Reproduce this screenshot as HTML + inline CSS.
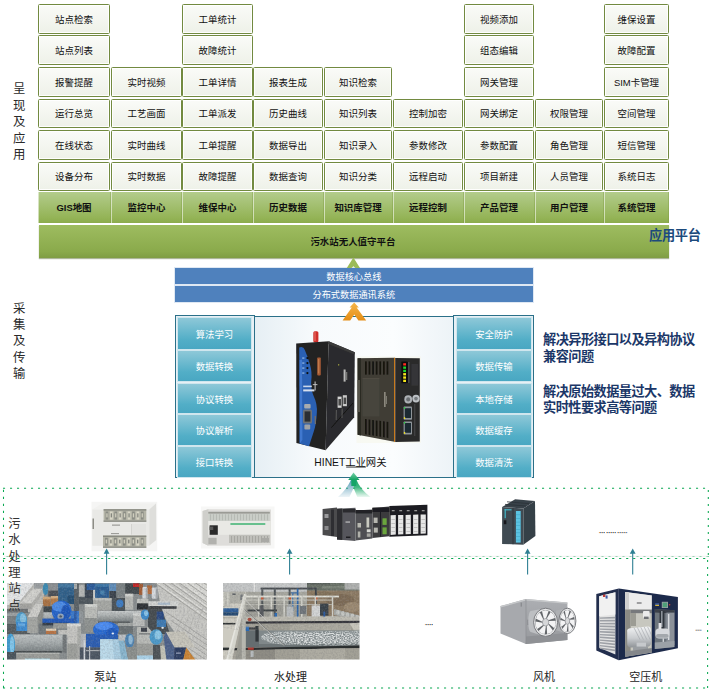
<!DOCTYPE html>
<html lang="zh-CN">
<head>
<meta charset="utf-8">
<title>污水站无人值守平台 系统架构</title>
<style>
html,body{margin:0;padding:0;background:#fff}
body{width:711px;height:694px;position:relative;overflow:hidden;font-family:"Liberation Sans",sans-serif;font-size:9px}
div{position:absolute;box-sizing:border-box}
span{color:transparent;white-space:nowrap}
svg{position:absolute;left:0;top:0}
.c,.g,.bar,.bb,.tc{display:flex;align-items:center;justify-content:center}
.c{border:1px solid #728a40;border-radius:1.5px;background:linear-gradient(#fafbf8,#eef1e8);box-shadow:inset 0 0 0 1px rgba(255,255,255,.9)}
.g{background:linear-gradient(#b3cc8c,#93b355 85%,#8cab4e);border-left:1px solid rgba(255,255,255,.55);border-right:1px solid rgba(120,150,60,.35);font-weight:bold}
.bar{background:linear-gradient(#9ebc60,#8aaa4b 80%,#7f9d43);box-shadow:0 1px 1px rgba(90,110,50,.5);font-weight:bold}
.bb{background:#4f81bd;box-shadow:0 0 0 1px #dfe8f3}
.ct{border:1px solid #2b7089;background:#e7f0f5}
.ct.mid{background:linear-gradient(90deg,#e6eff4,#f7fafc 30%,#fbfdfe 70%,#edf3f7)}
.tc{border:1px solid #cfe6ee;background:linear-gradient(#8ec8d8,#52aec7 70%,#49a7c2)}
.lbl{width:40px}
.lbl.v{width:14px;line-height:16px;font-size:12px}
.lbl.v span{white-space:normal;word-break:break-all}
.lbl.note{width:160px;font-size:13px;font-weight:bold}
.lbl.note span{white-space:normal}
.lbl.app{font-size:13px;font-weight:bold}
.lbl.cap{font-size:11px;text-align:center}
</style>
</head>
<body>
<svg width="711" height="694" viewBox="0 0 711 694" style="z-index:0"><defs>
<filter id="b3" x="-5%" y="-5%" width="110%" height="110%"><feGaussianBlur stdDeviation="0.35"/></filter>
<filter id="b5" x="-5%" y="-5%" width="110%" height="110%"><feGaussianBlur stdDeviation="0.55"/></filter>
<filter id="b8" x="-5%" y="-5%" width="110%" height="110%"><feGaussianBlur stdDeviation="0.8"/></filter>
<linearGradient id="gOr" x1="0" y1="0" x2="0" y2="1"><stop offset="0" stop-color="#f6b64a"/><stop offset="1" stop-color="#e58e16"/></linearGradient>
<linearGradient id="gTl" x1="0" y1="0" x2="0" y2="1"><stop offset="0" stop-color="#3f8fae" stop-opacity=".95"/><stop offset="1" stop-color="#6aa6c0" stop-opacity=".12"/></linearGradient>
<linearGradient id="gGr" x1="0" y1="0" x2="0" y2="1"><stop offset="0" stop-color="#12a467"/><stop offset=".45" stop-color="#2fb176" stop-opacity=".9"/><stop offset="1" stop-color="#55c28e" stop-opacity=".12"/></linearGradient>
<linearGradient id="gHead" x1="0" y1="0" x2="0" y2="1"><stop offset="0" stop-color="#74d0a8"/><stop offset="1" stop-color="#12a161"/></linearGradient>
<linearGradient id="gPipe" x1="0" y1="0" x2="0" y2="1"><stop offset="0" stop-color="#bdc2c2"/><stop offset=".45" stop-color="#a4aaab"/><stop offset="1" stop-color="#747b7d"/></linearGradient>
<linearGradient id="gPipe2" x1="0" y1="0" x2="0" y2="1"><stop offset="0" stop-color="#c6caca"/><stop offset=".5" stop-color="#a5aaaa"/><stop offset="1" stop-color="#787f80"/></linearGradient>
<linearGradient id="gFan" x1="0" y1="0" x2="0" y2="1"><stop offset="0" stop-color="#acaeb2"/><stop offset="1" stop-color="#97999d"/></linearGradient>
<linearGradient id="gMot" x1="0" y1="0" x2="0" y2="1"><stop offset="0" stop-color="#f2f3f4"/><stop offset=".55" stop-color="#c9cccf"/><stop offset="1" stop-color="#8e9296"/></linearGradient>
<filter id="foam" x="0" y="0" width="100%" height="100%"><feTurbulence type="fractalNoise" baseFrequency="0.55 0.9" numOctaves="2" seed="4" result="n"/><feColorMatrix in="n" type="matrix" values="0 0 0 0 0  0 0 0 0 0  0 0 0 0 0  0 0 0 2.6 -0.8" result="m"/><feComposite in="SourceGraphic" in2="m" operator="in"/></filter>
<filter id="grain" x="0" y="0" width="100%" height="100%"><feTurbulence type="fractalNoise" baseFrequency="0.8" numOctaves="2" seed="9" result="n"/><feColorMatrix in="n" type="matrix" values="0 0 0 0 0  0 0 0 0 0  0 0 0 0 0  0 0 0 1.4 -0.55" result="m"/><feComposite in="SourceGraphic" in2="m" operator="in"/></filter>
<filter id="pgrain" x="0" y="0" width="100%" height="100%"><feTurbulence type="fractalNoise" baseFrequency="0.55" numOctaves="2" seed="3" result="n"/><feColorMatrix in="n" type="matrix" values="0 0 0 0 0.1  0 0 0 0 0.1  0 0 0 0 0.12  2.2 0 0 0 -0.85"/></filter>
<filter id="pgrainw" x="0" y="0" width="100%" height="100%"><feTurbulence type="fractalNoise" baseFrequency="0.55" numOctaves="2" seed="11" result="n"/><feColorMatrix in="n" type="matrix" values="0 0 0 0 1  0 0 0 0 1  0 0 0 0 1  0 2.2 0 0 -0.9"/></filter>
<clipPath id="cpPump"><rect x="7" y="583" width="200" height="76.5"/></clipPath>
<clipPath id="cpWater"><rect x="223" y="583" width="136.5" height="76.4"/></clipPath>
</defs><line x1="3" y1="488.3" x2="708.8" y2="488.3" stroke="#0aa852" stroke-width="1.05" stroke-dasharray="2.1 4.9"/><line x1="6.45" y1="556.4" x2="708.8" y2="556.4" stroke="#0aa852" stroke-width="1.05" stroke-dasharray="2.1 4.9"/><line x1="3.15" y1="558.5" x2="708" y2="558.5" stroke="#0aa852" stroke-width="1.05" stroke-dasharray="2.1 4.9"/><line x1="3" y1="688" x2="708" y2="688" stroke="#0aa852" stroke-width="1.05" stroke-dasharray="2.1 4.9"/><line x1="3.5" y1="489.85" x2="3.5" y2="688.3" stroke="#0aa852" stroke-width="1.05" stroke-dasharray="2.1 4.9"/><line x1="708.3" y1="490" x2="708.3" y2="556.4" stroke="#0aa852" stroke-width="1.05" stroke-dasharray="2.1 4.9"/><line x1="707.6" y1="560" x2="707.6" y2="688" stroke="#0aa852" stroke-width="1.05" stroke-dasharray="2.1 4.9"/><line x1="4" y1="556.3" x2="708" y2="556.3" stroke="#ececec" stroke-width="0.8"/><g filter="url(#b5)"><rect x="91.5" y="501.8" width="65.7" height="49.5" fill="#f5f5f4"/><polygon points="92.3,509.5 103.0,503.0 156.0,503.5 149.2,509.5" fill="#f1f1ef"/><polygon points="149.2,509.5 156.0,503.5 156.3,540.0 149.2,545.8" fill="#dededb"/><rect x="92.3" y="509.5" width="56.9" height="36.3" fill="#e9e9e6"/><rect x="92.6" y="518.5" width="1.2" height="10.5" fill="#77776f"/><rect x="103.6" y="509.3" width="42.7" height="12.5" fill="#b3b3a6"/><rect x="103.6" y="509.3" width="42.7" height="1.2" fill="#7f8078"/><rect x="105.6" y="511.5" width="2.7" height="8.1" fill="#8a8c84"/><rect x="106.3" y="513.3" width="1.3" height="4.1" fill="#cfcdbd"/><rect x="110.0" y="511.5" width="2.7" height="8.1" fill="#d8d6c6"/><rect x="110.7" y="513.3" width="1.3" height="4.1" fill="#84867e"/><rect x="114.4" y="511.5" width="2.7" height="8.1" fill="#8a8c84"/><rect x="115.1" y="513.3" width="1.3" height="4.1" fill="#cfcdbd"/><rect x="118.8" y="511.5" width="2.7" height="8.1" fill="#d8d6c6"/><rect x="119.5" y="513.3" width="1.3" height="4.1" fill="#84867e"/><rect x="123.2" y="511.5" width="2.7" height="8.1" fill="#8a8c84"/><rect x="123.9" y="513.3" width="1.3" height="4.1" fill="#cfcdbd"/><rect x="127.7" y="511.5" width="2.7" height="8.1" fill="#d8d6c6"/><rect x="128.4" y="513.3" width="1.3" height="4.1" fill="#84867e"/><rect x="132.1" y="511.5" width="2.7" height="8.1" fill="#8a8c84"/><rect x="132.8" y="513.3" width="1.3" height="4.1" fill="#cfcdbd"/><rect x="136.5" y="511.5" width="2.7" height="8.1" fill="#d8d6c6"/><rect x="137.2" y="513.3" width="1.3" height="4.1" fill="#84867e"/><rect x="140.9" y="511.5" width="2.7" height="8.1" fill="#8a8c84"/><rect x="141.6" y="513.3" width="1.3" height="4.1" fill="#cfcdbd"/><rect x="103.6" y="520.5" width="42.7" height="1.3" fill="#8c8d85"/><rect x="103.0" y="535.6" width="43.3" height="12.2" fill="#b3b3a6"/><rect x="103.0" y="535.6" width="43.3" height="1.2" fill="#7f8078"/><rect x="105.0" y="537.8" width="2.8" height="7.8" fill="#8a8c84"/><rect x="105.7" y="539.6" width="1.4" height="3.8" fill="#cfcdbd"/><rect x="109.5" y="537.8" width="2.8" height="7.8" fill="#d8d6c6"/><rect x="110.2" y="539.6" width="1.4" height="3.8" fill="#84867e"/><rect x="114.0" y="537.8" width="2.8" height="7.8" fill="#8a8c84"/><rect x="114.7" y="539.6" width="1.4" height="3.8" fill="#cfcdbd"/><rect x="118.4" y="537.8" width="2.8" height="7.8" fill="#d8d6c6"/><rect x="119.1" y="539.6" width="1.4" height="3.8" fill="#84867e"/><rect x="122.9" y="537.8" width="2.8" height="7.8" fill="#8a8c84"/><rect x="123.6" y="539.6" width="1.4" height="3.8" fill="#cfcdbd"/><rect x="127.4" y="537.8" width="2.8" height="7.8" fill="#d8d6c6"/><rect x="128.1" y="539.6" width="1.4" height="3.8" fill="#84867e"/><rect x="131.9" y="537.8" width="2.8" height="7.8" fill="#8a8c84"/><rect x="132.6" y="539.6" width="1.4" height="3.8" fill="#cfcdbd"/><rect x="136.3" y="537.8" width="2.8" height="7.8" fill="#d8d6c6"/><rect x="137.0" y="539.6" width="1.4" height="3.8" fill="#84867e"/><rect x="140.8" y="537.8" width="2.8" height="7.8" fill="#8a8c84"/><rect x="141.5" y="539.6" width="1.4" height="3.8" fill="#cfcdbd"/><rect x="103.0" y="546.5" width="43.3" height="1.3" fill="#8c8d85"/><rect x="131.0" y="524.0" width="15.0" height="10.5" fill="#e3e3e0"/><rect x="131.0" y="524.0" width="0.6" height="10.5" fill="#c8c8c4"/><rect x="112.0" y="524.6" width="8.0" height="1.0" fill="#8c8c88"/><rect x="111.0" y="533.2" width="8.0" height="0.9" fill="#8c8c88"/></g><g filter="url(#b5)"><rect x="201.0" y="506.5" width="73.5" height="42.0" fill="#f7f7f6"/><polygon points="202.6,511.0 208.3,509.3 271.0,509.6 271.0,545.3 208.3,545.8 202.6,543.0" fill="#deddda"/><polygon points="202.6,511.0 208.3,509.3 208.3,545.8 202.6,543.0" fill="#cfcfcb"/><rect x="208.3" y="511.8" width="61.5" height="9.1" fill="#c9cdc7"/><rect x="208.3" y="511.8" width="61.5" height="1.8" fill="#9a9b95"/><rect x="210.0" y="514.3" width="1.0" height="6.0" fill="#b6bab4"/><rect x="213.0" y="514.3" width="1.0" height="6.0" fill="#b6bab4"/><rect x="216.0" y="514.3" width="1.0" height="6.0" fill="#b6bab4"/><rect x="219.0" y="514.3" width="1.0" height="6.0" fill="#b6bab4"/><rect x="222.0" y="514.3" width="1.0" height="6.0" fill="#b6bab4"/><rect x="225.0" y="514.3" width="1.0" height="6.0" fill="#b6bab4"/><rect x="228.0" y="514.3" width="1.0" height="6.0" fill="#b6bab4"/><rect x="231.0" y="514.3" width="1.0" height="6.0" fill="#b6bab4"/><rect x="234.0" y="514.3" width="1.0" height="6.0" fill="#b6bab4"/><rect x="237.0" y="514.3" width="1.0" height="6.0" fill="#b6bab4"/><rect x="240.0" y="514.3" width="1.0" height="6.0" fill="#b6bab4"/><rect x="243.0" y="514.3" width="1.0" height="6.0" fill="#b6bab4"/><rect x="246.0" y="514.3" width="1.0" height="6.0" fill="#b6bab4"/><rect x="249.0" y="514.3" width="1.0" height="6.0" fill="#b6bab4"/><rect x="252.0" y="514.3" width="1.0" height="6.0" fill="#b6bab4"/><rect x="255.0" y="514.3" width="1.0" height="6.0" fill="#b6bab4"/><rect x="258.0" y="514.3" width="1.0" height="6.0" fill="#b6bab4"/><rect x="261.0" y="514.3" width="1.0" height="6.0" fill="#b6bab4"/><rect x="264.0" y="514.3" width="1.0" height="6.0" fill="#b6bab4"/><rect x="267.0" y="514.3" width="1.0" height="6.0" fill="#b6bab4"/><rect x="208.3" y="521.0" width="62.3" height="13.8" fill="#e9e9e5"/><rect x="230.4" y="523.3" width="34.9" height="1.4" fill="#2fae6a"/><rect x="209.6" y="525.3" width="8.2" height="9.5" fill="#2b2b2b"/><rect x="209.6" y="526.6" width="3.6" height="3.4" fill="#5a5a5a"/><rect x="229.0" y="534.8" width="40.8" height="8.2" fill="#bfbfba"/><rect x="231.0" y="536.0" width="1.0" height="6.4" fill="#a7a7a2"/><rect x="234.0" y="536.0" width="1.0" height="6.4" fill="#a7a7a2"/><rect x="237.0" y="536.0" width="1.0" height="6.4" fill="#a7a7a2"/><rect x="240.0" y="536.0" width="1.0" height="6.4" fill="#a7a7a2"/><rect x="243.0" y="536.0" width="1.0" height="6.4" fill="#a7a7a2"/><rect x="246.0" y="536.0" width="1.0" height="6.4" fill="#a7a7a2"/><rect x="249.0" y="536.0" width="1.0" height="6.4" fill="#a7a7a2"/><rect x="252.0" y="536.0" width="1.0" height="6.4" fill="#a7a7a2"/><rect x="255.0" y="536.0" width="1.0" height="6.4" fill="#a7a7a2"/><rect x="258.0" y="536.0" width="1.0" height="6.4" fill="#a7a7a2"/><rect x="261.0" y="536.0" width="1.0" height="6.4" fill="#a7a7a2"/><rect x="264.0" y="536.0" width="1.0" height="6.4" fill="#a7a7a2"/><rect x="267.0" y="536.0" width="1.0" height="6.4" fill="#a7a7a2"/><rect x="208.3" y="537.8" width="8.3" height="6.6" fill="#b1b1ad"/><rect x="262.0" y="538.0" width="7.0" height="4.0" fill="#a9a9a5"/></g><g filter="url(#b5)"><polygon points="322.6,509.0 337.0,507.6 337.0,537.0 322.6,535.0" fill="#4b4b4e"/><rect x="324.5" y="514.0" width="4.0" height="4.0" fill="#9a9a9c"/><rect x="324.5" y="526.0" width="4.0" height="4.0" fill="#8a8a8c"/><rect x="331.0" y="509.5" width="3.0" height="26.5" fill="#2e2e30"/><polygon points="337.0,508.8 355.5,507.8 355.5,541.0 337.0,539.6" fill="#56575b"/><polygon points="337.0,508.8 342.3,508.5 342.3,540.0 337.0,539.6" fill="#2f2f32"/><rect x="343.0" y="509.0" width="12.5" height="3.5" fill="#2c2c2e"/><rect x="345.5" y="521.5" width="4.5" height="1.1" fill="#c8c8ca"/><rect x="346.0" y="536.5" width="4.5" height="1.5" fill="#1e1e20"/><polygon points="355.5,510.4 372.4,509.4 372.4,538.6 355.5,540.4" fill="#4f5053"/><rect x="355.5" y="510.0" width="16.9" height="3.5" fill="#242426"/><rect x="357.5" y="523.0" width="3.5" height="4.5" fill="#b9b9b2"/><rect x="357.8" y="531.5" width="2.6" height="6.0" fill="#b0b0aa"/><rect x="366.5" y="517.5" width="2.7" height="10.0" fill="#c9c9c0"/><rect x="366.8" y="529.3" width="3.8" height="2.9" fill="#d9d9d4"/><rect x="366.8" y="533.4" width="3.8" height="3.4" fill="#a5a5a0"/><polygon points="372.4,508.0 389.3,506.6 389.3,536.2 372.4,538.0" fill="#3a3a3d"/><rect x="372.4" y="507.6" width="16.9" height="4.4" fill="#1f1f21"/><rect x="373.6" y="517.6" width="4.0" height="5.4" fill="#b7b7b0"/><rect x="373.8" y="527.6" width="4.0" height="5.0" fill="#b7b7b0"/><rect x="380.2" y="512.0" width="0.8" height="24.5" fill="#19191b"/><rect x="382.5" y="518.3" width="4.2" height="6.6" fill="#6aa53e"/><rect x="382.5" y="527.4" width="4.2" height="6.9" fill="#6aa53e"/><polygon points="389.3,506.0 427.4,504.8 427.4,535.2 389.3,536.8" fill="#1f1f22"/><polygon points="390.6,515.2 395.8,515.0 395.8,534.6 390.6,534.9" fill="#e6e6e6"/><rect x="391.4" y="519.0" width="3.6" height="0.7" fill="#b2b2b2"/><rect x="391.4" y="523.0" width="3.6" height="0.7" fill="#b2b2b2"/><rect x="391.4" y="527.0" width="3.6" height="0.7" fill="#b2b2b2"/><rect x="391.4" y="531.0" width="3.6" height="0.7" fill="#b2b2b2"/><rect x="391.8" y="510.3" width="2.8" height="0.9" fill="#c8c8c8"/><polygon points="398.1,515.1 403.3,514.9 403.3,534.3 398.1,534.6" fill="#e6e6e6"/><rect x="398.9" y="519.0" width="3.6" height="0.7" fill="#b2b2b2"/><rect x="398.9" y="523.0" width="3.6" height="0.7" fill="#b2b2b2"/><rect x="398.9" y="527.0" width="3.6" height="0.7" fill="#b2b2b2"/><rect x="398.9" y="531.0" width="3.6" height="0.7" fill="#b2b2b2"/><rect x="399.3" y="510.3" width="2.8" height="0.9" fill="#c8c8c8"/><polygon points="405.6,514.9 410.8,514.7 410.8,534.0 405.6,534.3" fill="#e6e6e6"/><rect x="406.4" y="519.0" width="3.6" height="0.7" fill="#b2b2b2"/><rect x="406.4" y="523.0" width="3.6" height="0.7" fill="#b2b2b2"/><rect x="406.4" y="527.0" width="3.6" height="0.7" fill="#b2b2b2"/><rect x="406.4" y="531.0" width="3.6" height="0.7" fill="#b2b2b2"/><rect x="406.8" y="510.3" width="2.8" height="0.9" fill="#c8c8c8"/><polygon points="413.1,514.8 418.3,514.5 418.3,533.7 413.1,534.0" fill="#e6e6e6"/><rect x="413.9" y="519.0" width="3.6" height="0.7" fill="#b2b2b2"/><rect x="413.9" y="523.0" width="3.6" height="0.7" fill="#b2b2b2"/><rect x="413.9" y="527.0" width="3.6" height="0.7" fill="#b2b2b2"/><rect x="413.9" y="531.0" width="3.6" height="0.7" fill="#b2b2b2"/><rect x="414.3" y="510.3" width="2.8" height="0.9" fill="#c8c8c8"/><polygon points="420.6,514.6 425.8,514.4 425.8,533.4 420.6,533.7" fill="#e6e6e6"/><rect x="421.4" y="519.0" width="3.6" height="0.7" fill="#b2b2b2"/><rect x="421.4" y="523.0" width="3.6" height="0.7" fill="#b2b2b2"/><rect x="421.4" y="527.0" width="3.6" height="0.7" fill="#b2b2b2"/><rect x="421.4" y="531.0" width="3.6" height="0.7" fill="#b2b2b2"/><rect x="421.8" y="510.3" width="2.8" height="0.9" fill="#c8c8c8"/></g><g filter="url(#b5)"><polygon points="502.1,507.1 515.1,499.3 535.0,501.1 523.3,508.4" fill="#39424a"/><polygon points="523.3,508.4 535.0,501.1 535.4,536.1 523.3,544.7" fill="#363f46"/><polygon points="502.1,507.1 523.3,508.4 523.3,544.7 502.1,543.9" fill="#414b53"/><rect x="512.6" y="508.0" width="0.8" height="36.3" fill="#2a3238"/><rect x="515.9" y="511.0" width="4.8" height="31.6" fill="#5cc3e2"/><rect x="515.9" y="514.6" width="4.8" height="0.5" fill="#3b9fc0"/><rect x="515.9" y="518.2" width="4.8" height="0.5" fill="#3b9fc0"/><rect x="515.9" y="521.8" width="4.8" height="0.5" fill="#3b9fc0"/><rect x="515.9" y="525.4" width="4.8" height="0.5" fill="#3b9fc0"/><rect x="515.9" y="529.0" width="4.8" height="0.5" fill="#3b9fc0"/><rect x="515.9" y="532.6" width="4.8" height="0.5" fill="#3b9fc0"/><rect x="515.9" y="536.2" width="4.8" height="0.5" fill="#3b9fc0"/><rect x="515.9" y="539.8" width="4.8" height="0.5" fill="#3b9fc0"/><rect x="504.6" y="509.2" width="6.9" height="1.2" fill="#45b7c9"/><rect x="504.6" y="509.2" width="1.2" height="9.0" fill="#45b7c9"/><rect x="503.8" y="520.3" width="2.6" height="3.9" fill="#15191c"/><line x1="507.0" y1="501.8" x2="529.0" y2="503.6" stroke="#2a3137" stroke-width="0.80"/><line x1="505.0" y1="504.4" x2="526.0" y2="506.0" stroke="#2a3137" stroke-width="0.80"/></g><g clip-path="url(#cpPump)"><g filter="url(#b5)"><rect x="5.0" y="581.0" width="204.0" height="81.0" fill="#878c8d"/><rect x="5.0" y="581.0" width="39.0" height="31.0" fill="#b9b9b5"/><polygon points="5.0,581.0 36.0,581.0 20.0,601.0 5.0,606.0" fill="#e3e5e6"/><polygon points="19.8,603.6 33.6,588.4 42.9,588.4 31.6,603.6" fill="#d0d0cc"/><polygon points="31.6,603.6 42.9,588.4 42.9,593.4 32.6,607.6" fill="#adada9"/><rect x="19.8" y="603.6" width="12.0" height="5.2" fill="#a2a29e"/><rect x="5.0" y="608.8" width="23.0" height="4.2" fill="#6c7072"/><rect x="34.0" y="583.0" width="9.0" height="5.6" fill="#9a9ea0"/><ellipse cx="45.6" cy="589.0" rx="2.9" ry="6.0" fill="#3a8ab2"/><rect x="48.3" y="583.0" width="10.1" height="8.0" fill="#8a8e91"/><rect x="48.3" y="590.6" width="10.1" height="6.4" fill="#4a5054"/><rect x="42.9" y="598.6" width="7.5" height="7.8" fill="#a8703f"/><rect x="50.8" y="597.6" width="7.4" height="7.0" fill="#b07a48"/><rect x="42.9" y="596.7" width="7.5" height="2.7" fill="#cfa676"/><rect x="50.8" y="596.0" width="7.4" height="2.4" fill="#d4ae80"/><rect x="58.2" y="583.6" width="15.8" height="20.2" fill="#2f5f89"/><rect x="58.2" y="583.6" width="15.8" height="4.0" fill="#3f749e"/><rect x="67.5" y="595.5" width="6.5" height="8.3" fill="#244d72"/><rect x="5.0" y="612.6" width="17.0" height="13.4" fill="#7a7f81"/><rect x="5.0" y="612.6" width="17.0" height="3.4" fill="#9a9fa0"/><rect x="5.0" y="624.0" width="25.0" height="10.0" fill="#555b5e"/><ellipse cx="21.4" cy="620.6" rx="5.8" ry="8.6" fill="#4a9aca"/><ellipse cx="23.0" cy="618.4" rx="3.0" ry="5.0" fill="#83c0e2"/><rect x="16.3" y="622.0" width="11.1" height="9.0" fill="#3a8ad0"/><rect x="18.0" y="623.4" width="7.0" height="3.0" fill="#62a8e0"/><polygon points="27.2,617.4 35.5,604.1 43.4,604.1 37.5,617.4" fill="#cdcdc9"/><rect x="27.2" y="617.4" width="10.5" height="15.6" fill="#a3a5a1"/><polygon points="37.5,617.4 43.4,604.1 43.4,621.0 38.6,633.0" fill="#8b8d89"/><rect x="43.4" y="606.4" width="8.6" height="6.0" fill="#3e4448"/><rect x="43.4" y="612.4" width="9.6" height="11.0" fill="url(#gPipe)"/><rect x="38.6" y="623.4" width="28.8" height="11.0" fill="#70777a"/><rect x="42.4" y="621.6" width="31.6" height="3.8" fill="#333a46"/><rect x="70.0" y="611.5" width="13.0" height="11.9" fill="#8f9598"/><rect x="70.6" y="611.0" width="8.4" height="12.8" fill="#3a78c9"/><rect x="74.0" y="609.6" width="2.6" height="15.4" fill="#2a5ca8"/><ellipse cx="61.6" cy="611.0" rx="10.0" ry="10.6" fill="#2362c9"/><ellipse cx="59.4" cy="606.6" rx="7.4" ry="5.0" fill="#4a8ae6"/><ellipse cx="65.6" cy="612.0" rx="4.4" ry="7.0" fill="#1c55b8"/><ellipse cx="60.6" cy="616.4" rx="3.2" ry="3.0" fill="#93a5bb"/><ellipse cx="60.6" cy="616.4" rx="1.2" ry="1.2" fill="#3a4654"/><rect x="42.4" y="618.6" width="31.6" height="4.2" fill="#2058b8"/><rect x="53.2" y="623.2" width="16.8" height="5.4" fill="#9a9c98"/><rect x="45.9" y="630.2" width="10.3" height="3.8" fill="#b87242"/><rect x="45.9" y="628.6" width="10.3" height="2.2" fill="#e2d2ba"/><rect x="58.2" y="629.8" width="9.8" height="5.0" fill="#c1c1bd"/><rect x="67.2" y="623.6" width="13.6" height="37.4" fill="#c4c4c0"/><rect x="67.2" y="623.6" width="13.6" height="2.8" fill="#d9d9d5"/><rect x="67.2" y="643.6" width="13.6" height="17.4" fill="#9c9e9a"/><rect x="77.4" y="626.4" width="3.4" height="34.6" fill="#a9aba7"/><rect x="13.4" y="634.7" width="52.8" height="17.9" fill="url(#gPipe)"/><rect x="62.6" y="634.7" width="3.6" height="17.9" fill="#6f7577"/><ellipse cx="10.6" cy="645.0" rx="4.4" ry="11.4" fill="#3a9ad1"/><ellipse cx="12.0" cy="645.0" rx="2.2" ry="9.0" fill="#7fc5ea"/><rect x="5.0" y="652.0" width="11.4" height="9.0" fill="#49535a"/><rect x="16.3" y="652.0" width="43.1" height="9.0" fill="#9a9c98"/><rect x="16.3" y="652.0" width="43.1" height="2.0" fill="#b3b5b1"/><rect x="14.0" y="651.0" width="48.0" height="1.6" fill="#454b4e"/><rect x="25.0" y="658.6" width="25.0" height="2.4" fill="#a9d9e9"/><rect x="74.0" y="583.6" width="5.0" height="27.4" fill="#596065"/><rect x="74.0" y="583.6" width="3.0" height="5.4" fill="#a9adad"/><rect x="78.9" y="585.0" width="5.9" height="11.8" fill="#b5b7b5"/><rect x="79.0" y="596.8" width="14.0" height="7.4" fill="#4e565c"/><rect x="84.8" y="583.6" width="10.2" height="14.4" fill="#3a4551"/><rect x="86.6" y="583.6" width="8.4" height="6.4" fill="#2a5a99"/><rect x="93.1" y="589.8" width="2.7" height="9.0" fill="#d1d1cd"/><rect x="95.1" y="583.8" width="13.9" height="14.0" fill="#2a5c91"/><rect x="95.1" y="583.8" width="13.9" height="3.0" fill="#3c76a6"/><ellipse cx="102.4" cy="592.6" rx="2.4" ry="2.4" fill="#4580ae"/><rect x="109.4" y="583.4" width="7.0" height="7.6" fill="#5b8bb9"/><rect x="109.4" y="591.0" width="7.0" height="7.0" fill="#39414a"/><rect x="116.3" y="583.8" width="8.9" height="13.0" fill="#7a8183"/><rect x="125.2" y="583.4" width="14.8" height="10.6" fill="#41474c"/><rect x="133.0" y="583.4" width="6.0" height="3.6" fill="#c22222"/><rect x="93.1" y="598.2" width="18.7" height="12.4" fill="#a4a6a2"/><rect x="93.1" y="598.2" width="18.7" height="2.2" fill="#bfc1bd"/><rect x="111.8" y="598.0" width="13.4" height="13.0" fill="#4a5157"/><ellipse cx="119.8" cy="603.6" rx="3.6" ry="4.0" fill="#3a7ac1"/><rect x="125.1" y="593.8" width="8.1" height="15.8" fill="#b4b6b2"/><rect x="125.1" y="593.8" width="8.1" height="2.6" fill="#d0d2ce"/><rect x="84.8" y="604.1" width="12.4" height="20.9" fill="#b9bbb7"/><rect x="84.8" y="604.1" width="12.4" height="2.7" fill="#d3d5d1"/><rect x="84.8" y="618.0" width="12.4" height="14.0" fill="#8d918f"/><rect x="97.6" y="611.0" width="43.4" height="10.6" fill="url(#gPipe2)"/><rect x="98.0" y="621.4" width="32.0" height="2.0" fill="#5a5f61"/><rect x="118.0" y="623.0" width="15.0" height="11.0" fill="#6b7072"/><rect x="118.0" y="623.0" width="15.0" height="3.0" fill="#9fa3a1"/><rect x="80.8" y="633.8" width="7.2" height="13.8" fill="#b1b5b9"/><rect x="86.0" y="633.8" width="14.0" height="13.8" fill="#2a5bb1"/><ellipse cx="106.0" cy="629.6" rx="13.0" ry="8.2" fill="#2867cf"/><ellipse cx="104.0" cy="626.0" rx="9.0" ry="4.0" fill="#4a8af0"/><ellipse cx="112.0" cy="632.6" rx="6.0" ry="4.6" fill="#1f58bd"/><ellipse cx="112.8" cy="633.6" rx="1.2" ry="1.2" fill="#e6eef8"/><rect x="92.0" y="634.6" width="26.0" height="4.8" fill="#255cb6"/><rect x="79.8" y="647.5" width="20.6" height="13.5" fill="#4a5361"/><rect x="83.6" y="640.0" width="1.6" height="20.0" fill="#d2d6da"/><rect x="89.0" y="646.0" width="1.2" height="14.0" fill="#b8bcc0"/><rect x="86.0" y="650.0" width="13.6" height="1.2" fill="#a9adb1"/><polygon points="100.0,639.2 123.7,639.2 128.1,661.0 100.4,661.0" fill="#a9cde1"/><polygon points="100.0,639.2 112.4,639.2 114.0,661.0 100.4,661.0" fill="#bbdaea"/><polygon points="118.4,639.2 123.7,639.2 128.1,661.0 121.6,661.0" fill="#87b5ce"/><rect x="118.8" y="634.8" width="7.6" height="5.8" fill="#b9bdc1"/><ellipse cx="129.6" cy="640.6" rx="4.6" ry="7.2" fill="#4a81b1"/><ellipse cx="130.6" cy="639.6" rx="2.2" ry="4.6" fill="#8fb8d6"/><rect x="128.0" y="647.0" width="13.0" height="14.0" fill="#8a8e8c"/><rect x="133.0" y="613.4" width="11.6" height="12.6" fill="#b9bbb9"/><rect x="133.0" y="613.4" width="11.6" height="2.4" fill="#d2d4d2"/><rect x="137.0" y="626.9" width="16.8" height="28.7" fill="#b9bbb7"/><rect x="137.0" y="643.6" width="16.8" height="17.4" fill="#9a9c98"/><rect x="141.0" y="627.6" width="6.0" height="4.2" fill="#3a4148"/><rect x="139.0" y="633.4" width="11.0" height="1.0" fill="#5d6265"/><rect x="137.0" y="655.4" width="24.0" height="5.6" fill="#a9d1e8"/><rect x="139.0" y="583.8" width="4.0" height="11.0" fill="#a05a31"/><rect x="147.0" y="585.4" width="5.0" height="8.6" fill="#b16b3b"/><rect x="142.4" y="586.9" width="5.0" height="11.9" fill="#d9dde1" rx="1"/><rect x="145.6" y="588.0" width="1.8" height="10.8" fill="#a9adb1"/><rect x="151.8" y="587.4" width="5.5" height="11.4" fill="#d5d9dd" rx="1"/><rect x="155.6" y="588.4" width="1.7" height="10.4" fill="#a3a7ab"/><rect x="137.0" y="598.8" width="11.4" height="4.6" fill="#c0c2be"/><rect x="137.0" y="603.4" width="13.0" height="6.2" fill="#2b2f31"/><polygon points="148.0,606.0 160.0,604.0 166.0,622.0 170.0,634.0 154.0,634.0 148.0,627.0" fill="#454b4f"/><ellipse cx="145.0" cy="614.6" rx="4.2" ry="5.2" fill="#3a88c9"/><ellipse cx="146.0" cy="613.2" rx="2.0" ry="2.8" fill="#85c0e6"/><rect x="156.7" y="611.5" width="7.1" height="8.1" fill="#2a4a81"/><rect x="156.7" y="619.6" width="9.3" height="7.4" fill="#3a78b1"/><ellipse cx="162.6" cy="627.8" rx="1.3" ry="1.1" fill="#e9edf1"/><ellipse cx="156.2" cy="637.0" rx="6.6" ry="7.8" fill="#4a98c9"/><ellipse cx="158.0" cy="635.0" rx="3.4" ry="4.6" fill="#8ac6e6"/><rect x="153.0" y="645.0" width="9.0" height="16.0" fill="#4b5155"/><polygon points="156.7,583.0 209.0,583.0 209.0,662.0 197.0,662.0 176.0,634.0 166.0,620.0 160.0,603.0" fill="#c6c6c2"/><polygon points="184.0,583.0 209.0,583.0 209.0,606.0" fill="#d6d6d2"/><line x1="152.0" y1="581.0" x2="214.0" y2="625.0" stroke="#9f9f9b" stroke-width="0.90"/><line x1="154.6" y1="581.0" x2="216.6" y2="625.0" stroke="#dededa" stroke-width="1.20"/><line x1="160.2" y1="581.0" x2="222.2" y2="625.0" stroke="#9f9f9b" stroke-width="0.90"/><line x1="162.8" y1="581.0" x2="224.8" y2="625.0" stroke="#dededa" stroke-width="1.20"/><line x1="168.4" y1="581.0" x2="230.4" y2="625.0" stroke="#9f9f9b" stroke-width="0.90"/><line x1="171.0" y1="581.0" x2="233.0" y2="625.0" stroke="#dededa" stroke-width="1.20"/><line x1="176.6" y1="581.0" x2="238.6" y2="625.0" stroke="#9f9f9b" stroke-width="0.90"/><line x1="179.2" y1="581.0" x2="241.2" y2="625.0" stroke="#dededa" stroke-width="1.20"/><line x1="184.8" y1="581.0" x2="246.8" y2="625.0" stroke="#9f9f9b" stroke-width="0.90"/><line x1="187.4" y1="581.0" x2="249.4" y2="625.0" stroke="#dededa" stroke-width="1.20"/><line x1="193.0" y1="581.0" x2="255.0" y2="625.0" stroke="#9f9f9b" stroke-width="0.90"/><line x1="195.6" y1="581.0" x2="257.6" y2="625.0" stroke="#dededa" stroke-width="1.20"/><line x1="201.2" y1="581.0" x2="263.2" y2="625.0" stroke="#9f9f9b" stroke-width="0.90"/><line x1="203.8" y1="581.0" x2="265.8" y2="625.0" stroke="#dededa" stroke-width="1.20"/><line x1="209.4" y1="581.0" x2="271.4" y2="625.0" stroke="#9f9f9b" stroke-width="0.90"/><line x1="212.0" y1="581.0" x2="274.0" y2="625.0" stroke="#dededa" stroke-width="1.20"/><line x1="217.6" y1="581.0" x2="279.6" y2="625.0" stroke="#9f9f9b" stroke-width="0.90"/><line x1="220.2" y1="581.0" x2="282.2" y2="625.0" stroke="#dededa" stroke-width="1.20"/><line x1="166.0" y1="612.0" x2="209.0" y2="641.2" stroke="#a3a39f" stroke-width="0.90"/><line x1="171.6" y1="621.0" x2="209.0" y2="646.4" stroke="#a3a39f" stroke-width="0.90"/><line x1="177.2" y1="630.0" x2="209.0" y2="651.6" stroke="#a3a39f" stroke-width="0.90"/><line x1="182.8" y1="639.0" x2="209.0" y2="656.8" stroke="#a3a39f" stroke-width="0.90"/><line x1="188.4" y1="648.0" x2="209.0" y2="662.0" stroke="#a3a39f" stroke-width="0.90"/><line x1="194.0" y1="657.0" x2="209.0" y2="667.2" stroke="#a3a39f" stroke-width="0.90"/><line x1="182.0" y1="618.0" x2="174.0" y2="640.0" stroke="#adada9" stroke-width="0.60"/><line x1="189.2" y1="614.0" x2="181.2" y2="636.0" stroke="#adada9" stroke-width="0.60"/><line x1="196.4" y1="610.0" x2="188.4" y2="632.0" stroke="#adada9" stroke-width="0.60"/><line x1="203.6" y1="606.0" x2="195.6" y2="628.0" stroke="#adada9" stroke-width="0.60"/><polygon points="148.3,601.2 178.4,601.2 178.4,606.2 148.3,606.2" fill="#d1d3d1"/><rect x="158.0" y="602.6" width="12.0" height="2.2" fill="#a9b9c9"/><rect x="150.0" y="606.2" width="26.6" height="2.6" fill="#3a3e41"/><polygon points="160.0,645.6 169.4,645.6 172.0,661.0 161.0,661.0" fill="#c1c1b5"/><polygon points="165.6,631.8 185.2,631.8 195.0,647.6 174.4,647.6" fill="#c5c3b9"/><polygon points="163.6,637.6 165.6,631.8 174.4,647.6 174.0,661.0 166.6,661.0" fill="#4b6189"/><polygon points="174.4,647.6 186.2,647.6 183.4,661.0 174.0,661.0" fill="#2b3b61"/><rect x="176.0" y="652.4" width="5.0" height="1.6" fill="#7e8aa6"/><polygon points="186.2,647.6 196.2,661.0 182.8,661.0" fill="#c98231"/></g><rect x="7" y="583" width="200" height="76.5" filter="url(#pgrain)" opacity=".2"/><rect x="7" y="583" width="200" height="76.5" filter="url(#pgrainw)" opacity=".13"/></g><g clip-path="url(#cpWater)"><g filter="url(#b5)"><rect x="221.0" y="581.0" width="141.0" height="81.0" fill="#a6a49b"/><rect x="221.0" y="581.0" width="86.0" height="11.0" fill="#c6c8c8"/><rect x="221.0" y="581.0" width="32.0" height="11.0" fill="#c2c4c4"/><rect x="253.6" y="583.0" width="1.4" height="9.0" fill="#e2e2e0"/><rect x="307.0" y="581.0" width="55.0" height="9.8" fill="#687066"/><rect x="307.0" y="581.0" width="23.0" height="3.6" fill="#59615a"/><rect x="344.6" y="583.0" width="15.4" height="6.6" fill="#aeb0ae"/><rect x="322.0" y="586.0" width="22.0" height="2.4" fill="#7c8478"/><rect x="306.9" y="590.6" width="55.1" height="25.4" fill="#8b7962"/><ellipse cx="340.0" cy="600.0" rx="14.0" ry="6.0" fill="#7b6a54"/><ellipse cx="352.0" cy="607.0" rx="8.0" ry="5.0" fill="#9a8870"/><ellipse cx="322.0" cy="594.6" rx="10.0" ry="3.0" fill="#807058"/><polygon points="334.0,609.0 359.0,615.6 359.0,620.6 334.0,615.0" fill="#a7a9a5"/><ellipse cx="338.0" cy="612.2" rx="1.7" ry="2.4" fill="#c3c5c1"/><ellipse cx="342.8" cy="613.5" rx="1.7" ry="2.4" fill="#c3c5c1"/><ellipse cx="347.6" cy="614.7" rx="1.7" ry="2.4" fill="#c3c5c1"/><ellipse cx="352.4" cy="616.0" rx="1.7" ry="2.4" fill="#c3c5c1"/><ellipse cx="357.2" cy="617.2" rx="1.7" ry="2.4" fill="#c3c5c1"/><rect x="230.0" y="591.8" width="77.0" height="26.2" fill="#a5a59d"/><rect x="246.0" y="603.0" width="61.0" height="14.6" fill="#9c9c95"/><rect x="260.6" y="587.6" width="56.0" height="1.9" fill="#464c50"/><rect x="261.3" y="588.0" width="2.0" height="29.0" fill="#4d5357"/><rect x="273.8" y="588.0" width="2.0" height="29.0" fill="#4d5357"/><rect x="288.6" y="588.0" width="2.0" height="29.0" fill="#4d5357"/><rect x="315.0" y="588.0" width="1.8" height="16.0" fill="#3d4349"/><rect x="296.8" y="588.6" width="1.7" height="28.4" fill="#2a64a9"/><rect x="291.0" y="592.4" width="6.0" height="1.0" fill="#2a64a9"/><rect x="292.2" y="593.0" width="1.2" height="18.0" fill="#3a70b0"/><rect x="261.0" y="597.0" width="2.4" height="2.8" fill="#c2512f"/><rect x="288.6" y="597.0" width="2.4" height="2.8" fill="#c2512f"/><rect x="315.0" y="597.0" width="2.4" height="2.8" fill="#c2512f"/><rect x="245.6" y="595.6" width="93.4" height="1.8" fill="#deded6"/><rect x="245.6" y="599.6" width="86.4" height="0.9" fill="#cdcdc5"/><rect x="245.6" y="604.2" width="86.4" height="0.8" fill="#bdbdb5"/><rect x="258.0" y="596.0" width="1.5" height="24.0" fill="#d2d2ca"/><rect x="270.6" y="596.0" width="1.5" height="24.0" fill="#d2d2ca"/><rect x="283.4" y="596.0" width="1.5" height="24.0" fill="#d2d2ca"/><rect x="301.0" y="596.0" width="1.5" height="24.0" fill="#d2d2ca"/><rect x="314.6" y="596.0" width="1.5" height="24.0" fill="#d2d2ca"/><rect x="331.8" y="596.0" width="1.5" height="24.0" fill="#d2d2ca"/><rect x="247.6" y="609.5" width="29.4" height="1.9" fill="#3b3f43"/><rect x="259.6" y="605.6" width="3.8" height="15.4" fill="#54585c"/><rect x="286.7" y="606.6" width="6.7" height="11.2" fill="#b9bdbf"/><rect x="288.0" y="604.0" width="4.0" height="3.0" fill="#9ea2a4"/><rect x="311.6" y="605.4" width="8.4" height="11.4" fill="#d2d4d4"/><rect x="320.0" y="603.6" width="8.4" height="12.0" fill="#393f47"/><rect x="323.4" y="611.6" width="1.8" height="8.8" fill="#2a5aa1"/><rect x="300.0" y="606.0" width="6.0" height="8.0" fill="#6d7378"/><rect x="274.6" y="613.0" width="2.4" height="4.4" fill="#2b6ab3"/><rect x="245.6" y="616.6" width="116.4" height="5.0" fill="#bcbab0"/><polygon points="245.6,621.6 362.0,620.8 362.0,623.0 245.6,623.9" fill="#34363a"/><rect x="245.6" y="623.8" width="116.4" height="6.8" fill="#9f9d93"/><rect x="290.0" y="623.8" width="61.0" height="6.6" fill="#aaa89e"/><polygon points="349.6,623.4 362.0,622.6 362.0,633.4 354.0,630.4" fill="#c6c4ba"/><rect x="245.6" y="630.4" width="116.4" height="16.8" fill="#80888a"/><rect x="246.0" y="630.4" width="13.0" height="16.8" fill="#656d6f"/><rect x="259.0" y="644.0" width="103.0" height="3.2" fill="#6d7577"/><g filter="url(#foam)"><path d="M264 633.4 Q276 630.8 300 631.4 L362 631 L362 645 Q330 646 296 644.8 Q276 645 268 642 Q260 638 264 633.4Z" fill="#c4c9c9"/><ellipse cx="318.0" cy="638.0" rx="44.0" ry="5.4" fill="#dde0e0"/><ellipse cx="274.0" cy="637.5" rx="13.0" ry="4.4" fill="#d2d6d6"/></g><rect x="255.4" y="626.0" width="3.2" height="15.6" fill="#33373a"/><rect x="244.2" y="626.7" width="5.0" height="4.3" fill="#2a6ab5"/><rect x="249.0" y="627.4" width="7.0" height="2.2" fill="#3c4043"/><polygon points="221.0,648.4 362.0,645.4 362.0,648.2 221.0,650.6" fill="#2b2d2f"/><rect x="247.8" y="647.6" width="6.0" height="2.2" fill="#b23a30"/><polygon points="246.0,650.2 362.0,648.2 362.0,662.0 246.0,662.0" fill="#8f8d85"/><polygon points="275.0,649.6 362.0,648.2 362.0,662.0 275.0,662.0" fill="#a3a197"/><polygon points="300.0,649.2 345.0,648.5 345.0,662.0 300.0,662.0" fill="#aeaca2"/><rect x="250.6" y="651.0" width="3.0" height="6.0" fill="#b7bbbd"/><polygon points="221.0,592.0 246.0,592.0 232.0,662.0 221.0,662.0" fill="#cdcbc1"/><rect x="221.0" y="591.8" width="9.0" height="15.2" fill="#b9b9b1"/><rect x="223.0" y="592.0" width="1.2" height="14.0" fill="#d6d6ce"/><rect x="227.4" y="592.0" width="1.0" height="14.0" fill="#d6d6ce"/><rect x="230.0" y="591.8" width="15.0" height="11.8" fill="#aeaea6"/><rect x="232.4" y="593.4" width="3.2" height="1.6" fill="#5c6064"/><rect x="240.4" y="594.6" width="2.2" height="5.4" fill="#6e7276"/><rect x="223.3" y="608.3" width="15.1" height="3.9" fill="#2a5a95"/><rect x="223.3" y="612.2" width="15.1" height="3.4" fill="#23466f"/><rect x="221.0" y="617.0" width="16.0" height="1.4" fill="#b4b2a8"/><rect x="221.0" y="622.9" width="14.4" height="1.6" fill="#2e3032"/><rect x="221.0" y="647.6" width="10.0" height="2.6" fill="#2e3032"/><polygon points="245.4,601.0 245.6,662.0 234.8,662.0" fill="#9a9a92"/><polygon points="241.8,597.0 245.6,596.0 245.6,662.0 241.8,662.0" fill="#b7b7af"/><polygon points="244.2,594.0 247.0,594.6 231.0,662.0 225.4,662.0" fill="#d5d5cd"/><polygon points="244.2,594.0 245.0,594.2 227.4,662.0 225.4,662.0" fill="#e6e6e0"/><line x1="245.4" y1="600.0" x2="267.2" y2="621.3" stroke="#cfcfcb" stroke-width="0.90"/><line x1="243.6" y1="609.5" x2="284.4" y2="645.5" stroke="#d0d0cc" stroke-width="0.90"/><line x1="244.4" y1="609.7" x2="285.2" y2="645.7" stroke="#4d5153" stroke-width="0.50"/><ellipse cx="249.6" cy="619.6" rx="2.0" ry="1.8" fill="#a5483a"/></g><rect x="223" y="583" width="136.5" height="47" filter="url(#pgrain)" opacity=".18"/><rect x="223" y="583" width="136.5" height="47" filter="url(#pgrainw)" opacity=".12"/><rect x="223" y="648" width="136.5" height="12" filter="url(#pgrain)" opacity=".18"/></g><g filter="url(#b5)"><polygon points="500.5,606.1 525.9,599.1 525.9,644.1 500.5,633.5" fill="#a7a9ad"/><polygon points="525.9,599.1 567.4,602.6 567.4,639.9 525.9,644.1" fill="url(#gFan)"/><polygon points="525.9,636.6 567.4,633.0 567.4,639.9 525.9,644.1" fill="#8f9195"/><polygon points="500.5,606.1 525.9,599.1 567.4,602.6 567.4,603.8 525.9,600.6 500.5,607.6" fill="#c6c8ca"/><line x1="525.9" y1="599.4" x2="525.9" y2="644.0" stroke="#8b8d91" stroke-width="0.80"/><rect x="520.6" y="602.6" width="1.4" height="4.0" fill="#8a8c90"/><rect x="527.4" y="619.6" width="2.0" height="5.4" fill="#85878b"/><polygon points="530.6,611.0 545.6,608.2 545.6,636.4 530.6,632.0" fill="#bdbfc2"/><ellipse cx="530.8" cy="621.5" rx="2.6" ry="10.5" fill="#bdbfc2"/><polygon points="556.0,610.6 567.4,608.2 567.4,633.6 556.0,630.2" fill="#aeb0b3"/><ellipse cx="545.6" cy="622.3" rx="12.0" ry="14.1" fill="#e6e7e8" stroke="#6f7175" stroke-width="0.9"/><ellipse cx="545.6" cy="622.3" rx="10.3" ry="12.1" fill="#63666a"/><polygon points="548.0,621.1 555.6,620.7 555.7,624.6 554.3,628.2 548.6,623.5" fill="#f3f3f4"/><polygon points="547.9,623.8 552.9,630.4 550.4,633.0 547.1,634.0 546.7,625.7" fill="#f3f3f4"/><polygon points="546.0,625.4 544.7,634.1 541.4,633.4 538.7,631.0 544.0,625.4" fill="#f3f3f4"/><polygon points="543.8,624.6 537.2,628.9 535.6,625.4 535.5,621.4 542.5,622.8" fill="#f3f3f4"/><polygon points="543.0,622.1 536.0,618.7 537.3,615.1 539.9,612.5 543.4,619.7" fill="#f3f3f4"/><polygon points="544.1,619.8 542.0,611.2 545.3,610.2 548.6,611.0 545.9,618.7" fill="#f3f3f4"/><polygon points="546.3,619.3 550.7,612.1 553.5,614.4 555.0,618.0 548.2,620.3" fill="#f3f3f4"/><ellipse cx="545.6" cy="622.3" rx="3.2" ry="3.8" fill="#d6d7d9" stroke="#85878b" stroke-width=".6"/><ellipse cx="567.4" cy="620.9" rx="8.5" ry="12.7" fill="#e6e7e8" stroke="#6f7175" stroke-width="0.9"/><ellipse cx="567.4" cy="620.9" rx="7.3" ry="10.9" fill="#63666a"/><polygon points="569.1,619.8 574.5,619.4 574.6,623.0 573.6,626.2 569.5,621.9" fill="#f3f3f4"/><polygon points="569.0,622.3 572.6,628.2 570.8,630.6 568.5,631.4 568.2,624.0" fill="#f3f3f4"/><polygon points="567.7,623.7 566.8,631.5 564.4,630.9 562.5,628.7 566.2,623.7" fill="#f3f3f4"/><polygon points="566.1,623.0 561.5,626.8 560.3,623.7 560.3,620.1 565.2,621.3" fill="#f3f3f4"/><polygon points="565.5,620.7 560.6,617.7 561.5,614.4 563.4,612.1 565.8,618.6" fill="#f3f3f4"/><polygon points="566.3,618.6 564.9,610.9 567.2,610.0 569.5,610.7 567.6,617.6" fill="#f3f3f4"/><polygon points="567.9,618.2 571.0,611.7 573.0,613.8 574.0,617.0 569.3,619.1" fill="#f3f3f4"/><ellipse cx="567.4" cy="620.9" rx="2.3" ry="3.4" fill="#d6d7d9" stroke="#85878b" stroke-width=".6"/></g><g filter="url(#b5)"><polygon points="596.3,594.1 618.8,588.5 618.8,660.2 596.3,650.4" fill="#212d4e"/><polygon points="618.8,588.5 677.9,597.0 677.9,648.3 618.8,660.2" fill="#1f2b4b"/><polygon points="599.2,596.2 615.4,592.2 615.4,654.6 599.2,647.8" fill="#e3e3e3"/><polygon points="599.2,596.2 615.4,592.2 615.4,614.6 599.2,616.2" fill="#f1f1f1"/><rect x="603.0" y="594.6" width="2.4" height="2.4" fill="#c23a36"/><rect x="605.6" y="595.4" width="2.0" height="3.2" fill="#3a5aa6"/><polygon points="599.8,617.4 615.0,616.8 615.0,618.5 599.8,618.7" fill="#9da0a6"/><polygon points="599.8,620.1 615.0,619.8 615.0,621.5 599.8,621.4" fill="#9da0a6"/><polygon points="599.8,622.9 615.0,622.7 615.0,624.4 599.8,624.2" fill="#9da0a6"/><polygon points="599.8,625.6 615.0,625.7 615.0,627.4 599.8,626.9" fill="#9da0a6"/><polygon points="599.8,628.4 615.0,628.7 615.0,630.4 599.8,629.7" fill="#9da0a6"/><polygon points="599.8,631.1 615.0,631.6 615.0,633.4 599.8,632.4" fill="#9da0a6"/><polygon points="599.8,633.9 615.0,634.6 615.0,636.3 599.8,635.2" fill="#9da0a6"/><polygon points="599.8,636.6 615.0,637.6 615.0,639.3 599.8,637.9" fill="#9da0a6"/><polygon points="599.8,639.4 615.0,640.6 615.0,642.3 599.8,640.7" fill="#9da0a6"/><polygon points="599.8,642.1 615.0,643.5 615.0,645.2 599.8,643.4" fill="#9da0a6"/><polygon points="599.8,644.9 615.0,646.5 615.0,648.2 599.8,646.2" fill="#9da0a6"/><polygon points="599.8,647.6 615.0,649.5 615.0,651.2 599.8,648.9" fill="#9da0a6"/><polygon points="625.2,592.0 651.9,595.5 651.9,652.5 625.2,656.7" fill="#c7c7bf"/><polygon points="625.2,592.0 651.9,595.5 651.9,609.8 625.2,609.4" fill="#ececec"/><polygon points="625.2,592.0 629.0,592.5 629.0,609.5 625.2,609.4" fill="#cfcfcf"/><rect x="636.8" y="602.4" width="4.8" height="1.2" fill="#6a6a6e"/><polygon points="625.2,609.4 630.6,609.6 630.6,655.8 625.2,656.7" fill="#8a8a84"/><rect x="630.6" y="609.6" width="21.3" height="3.6" fill="#77797c"/><rect x="643.0" y="611.0" width="6.6" height="6.8" fill="#ebebeb" rx="1"/><rect x="644.0" y="616.6" width="4.6" height="2.4" fill="#6e7074"/><rect x="631.0" y="613.0" width="5.0" height="13.0" fill="#9c9c94"/><path d="M627.2 632 Q626.4 629 630 628.2 L648 626.6 Q651 626.8 651 630 L651 643.5 Q650.6 646.6 647 646.8 L631 647.6 Q627.4 647.4 627.2 644Z" fill="url(#gMot)"/><line x1="634.0" y1="627.8" x2="640.0" y2="639.6" stroke="#9fa3a7" stroke-width="0.60"/><line x1="637.4" y1="627.5" x2="643.4" y2="639.6" stroke="#9fa3a7" stroke-width="0.60"/><line x1="640.8" y1="627.3" x2="646.8" y2="639.6" stroke="#9fa3a7" stroke-width="0.60"/><line x1="644.2" y1="627.0" x2="650.2" y2="639.6" stroke="#9fa3a7" stroke-width="0.60"/><line x1="647.6" y1="626.8" x2="653.6" y2="639.6" stroke="#9fa3a7" stroke-width="0.60"/><rect x="633.0" y="646.6" width="15.0" height="4.0" fill="#9a9ea2"/><rect x="636.6" y="642.6" width="9.4" height="4.0" fill="#c6c9cc"/><polygon points="625.2,651.6 651.9,648.0 651.9,652.5 625.2,656.7" fill="#84878b"/><rect x="651.9" y="595.5" width="2.9" height="57.1" fill="#1f2b4b"/><polygon points="654.8,608.9 674.4,610.3 674.4,646.9 654.8,649.0" fill="#6d747c"/><polygon points="654.8,608.9 674.4,610.3 674.4,613.6 654.8,612.4" fill="#3a4048"/><rect x="659.6" y="611.0" width="4.8" height="18.0" fill="#2f343b"/><rect x="661.0" y="611.0" width="1.6" height="16.0" fill="#8c9299"/><rect x="666.4" y="612.6" width="8.0" height="32.4" fill="#8b9199"/><rect x="668.0" y="614.0" width="1.4" height="26.0" fill="#d9dcdf"/><rect x="655.4" y="628.4" width="14.0" height="10.0" fill="#d7d9dc" rx="3.6"/><rect x="656.0" y="634.0" width="12.6" height="3.8" fill="#a4a8ac" rx="2"/><rect x="658.6" y="623.0" width="2.8" height="6.0" fill="#e5e6e8"/><rect x="662.6" y="638.4" width="1.4" height="7.6" fill="#d0d3d6"/><polygon points="654.8,642.6 674.4,641.0 674.4,646.9 654.8,649.0" fill="#9ba1a7"/><rect x="661.8" y="601.8" width="6.2" height="6.2" fill="#9aa0a4"/><rect x="662.6" y="602.6" width="4.6" height="4.6" fill="#4f9f79"/><rect x="655.2" y="603.4" width="3.8" height="1.4" fill="#3c64b4"/><rect x="655.2" y="604.8" width="3.8" height="1.2" fill="#d2b13a"/><ellipse cx="669.6" cy="604.8" rx="0.8" ry="0.8" fill="#d43a30"/></g><line x1="106.6" y1="574.5" x2="106.6" y2="551.5" stroke="#2f7f93" stroke-width="1.10"/><polygon points="106.6,548.6 109.5,553.8 103.7,553.8" fill="#2f7f93"/><line x1="289.6" y1="574.5" x2="289.6" y2="551.5" stroke="#2f7f93" stroke-width="1.10"/><polygon points="289.6,548.6 292.5,553.8 286.7,553.8" fill="#2f7f93"/><line x1="527.6" y1="574.5" x2="527.6" y2="551.5" stroke="#2f7f93" stroke-width="1.10"/><polygon points="527.6,548.6 530.5,553.8 524.7,553.8" fill="#2f7f93"/><line x1="632.7" y1="574.5" x2="632.7" y2="551.5" stroke="#2f7f93" stroke-width="1.10"/><polygon points="632.7,548.6 635.6,553.8 629.8,553.8" fill="#2f7f93"/><rect x="598.9" y="532.0" width="1.0" height="1.1" fill="#f0a24e"/><rect x="599.9" y="532.0" width="1.0" height="1.1" fill="#3579c6"/><rect x="600.9" y="532.0" width="1.0" height="1.1" fill="#f0a24e"/><rect x="601.9" y="532.0" width="1.0" height="1.1" fill="#3579c6"/><rect x="602.9" y="532.0" width="1.0" height="1.1" fill="#f0a24e"/><rect x="603.9" y="532.0" width="1.0" height="1.1" fill="#3579c6"/><rect x="606.1" y="532.0" width="1.0" height="1.1" fill="#f0a24e"/><rect x="607.1" y="532.0" width="1.0" height="1.1" fill="#3579c6"/><rect x="608.1" y="532.0" width="1.0" height="1.1" fill="#f0a24e"/><rect x="609.1" y="532.0" width="1.0" height="1.1" fill="#3579c6"/><rect x="610.1" y="532.0" width="1.0" height="1.1" fill="#f0a24e"/><rect x="611.1" y="532.0" width="1.0" height="1.1" fill="#3579c6"/><rect x="612.1" y="532.0" width="1.0" height="1.1" fill="#f0a24e"/><rect x="613.1" y="532.0" width="1.0" height="1.1" fill="#3579c6"/><rect x="614.1" y="532.0" width="1.0" height="1.1" fill="#f0a24e"/><rect x="615.1" y="532.0" width="1.0" height="1.1" fill="#3579c6"/><rect x="617.2" y="532.0" width="1.0" height="1.1" fill="#f0a24e"/><rect x="618.2" y="532.0" width="1.0" height="1.1" fill="#3579c6"/><rect x="619.2" y="532.0" width="1.0" height="1.1" fill="#f0a24e"/><rect x="620.2" y="532.0" width="1.0" height="1.1" fill="#3579c6"/><rect x="621.2" y="532.0" width="1.0" height="1.1" fill="#f0a24e"/><rect x="622.2" y="532.0" width="1.0" height="1.1" fill="#3579c6"/><rect x="623.2" y="532.0" width="1.0" height="1.1" fill="#f0a24e"/><rect x="624.2" y="532.0" width="1.0" height="1.1" fill="#3579c6"/><rect x="625.2" y="532.0" width="1.0" height="1.1" fill="#f0a24e"/><rect x="626.2" y="532.0" width="1.0" height="1.1" fill="#3579c6"/><rect x="424.9" y="624.0" width="1.0" height="1.1" fill="#f0a24e"/><rect x="425.9" y="624.0" width="1.0" height="1.1" fill="#3579c6"/><rect x="426.9" y="624.0" width="1.0" height="1.1" fill="#f0a24e"/><rect x="427.9" y="624.0" width="1.0" height="1.1" fill="#3579c6"/><rect x="428.9" y="624.0" width="1.0" height="1.1" fill="#f0a24e"/><rect x="429.9" y="624.0" width="1.0" height="1.1" fill="#3579c6"/><rect x="430.9" y="624.0" width="1.0" height="1.1" fill="#f0a24e"/><rect x="431.9" y="624.0" width="1.0" height="1.1" fill="#3579c6"/><rect x="695.4" y="629.7" width="1.0" height="1.1" fill="#f0a24e"/><rect x="696.4" y="629.7" width="1.0" height="1.1" fill="#3579c6"/><rect x="697.4" y="629.7" width="1.0" height="1.1" fill="#f0a24e"/><rect x="698.4" y="629.7" width="1.0" height="1.1" fill="#3579c6"/><rect x="699.4" y="629.7" width="1.0" height="1.1" fill="#f0a24e"/><rect x="700.4" y="629.7" width="1.0" height="1.1" fill="#3579c6"/></svg>
<div class="c" style="left:38px;top:4px;width:72px;height:30px"><span>站点检索</span></div>
<div class="c" style="left:38px;top:35px;width:72px;height:30px"><span>站点列表</span></div>
<div class="c" style="left:38px;top:67px;width:72px;height:30px"><span>报警提醒</span></div>
<div class="c" style="left:38px;top:99px;width:72px;height:29px"><span>运行总览</span></div>
<div class="c" style="left:38px;top:130px;width:72px;height:30px"><span>在线状态</span></div>
<div class="c" style="left:38px;top:162px;width:72px;height:29px"><span>设备分布</span></div>
<div class="g" style="left:38px;top:192px;width:73px;height:31px"><span>GIS地图</span></div>
<div class="c" style="left:111px;top:67px;width:71px;height:30px"><span>实时视频</span></div>
<div class="c" style="left:111px;top:99px;width:71px;height:29px"><span>工艺画面</span></div>
<div class="c" style="left:111px;top:130px;width:71px;height:30px"><span>实时曲线</span></div>
<div class="c" style="left:111px;top:162px;width:71px;height:29px"><span>实时数据</span></div>
<div class="g" style="left:111px;top:192px;width:71px;height:31px"><span>监控中心</span></div>
<div class="c" style="left:182px;top:4px;width:71px;height:30px"><span>工单统计</span></div>
<div class="c" style="left:182px;top:35px;width:71px;height:30px"><span>故障统计</span></div>
<div class="c" style="left:182px;top:67px;width:71px;height:30px"><span>工单详情</span></div>
<div class="c" style="left:182px;top:99px;width:71px;height:29px"><span>工单派发</span></div>
<div class="c" style="left:182px;top:130px;width:71px;height:30px"><span>工单提醒</span></div>
<div class="c" style="left:182px;top:162px;width:71px;height:29px"><span>故障提醒</span></div>
<div class="g" style="left:182px;top:192px;width:71px;height:31px"><span>维保中心</span></div>
<div class="c" style="left:253px;top:67px;width:70px;height:30px"><span>报表生成</span></div>
<div class="c" style="left:253px;top:99px;width:70px;height:29px"><span>历史曲线</span></div>
<div class="c" style="left:253px;top:130px;width:70px;height:30px"><span>数据导出</span></div>
<div class="c" style="left:253px;top:162px;width:70px;height:29px"><span>数据查询</span></div>
<div class="g" style="left:253px;top:192px;width:71px;height:31px"><span>历史数据</span></div>
<div class="c" style="left:324px;top:67px;width:68px;height:30px"><span>知识检索</span></div>
<div class="c" style="left:324px;top:99px;width:68px;height:29px"><span>知识列表</span></div>
<div class="c" style="left:324px;top:130px;width:68px;height:30px"><span>知识录入</span></div>
<div class="c" style="left:324px;top:162px;width:68px;height:29px"><span>知识分类</span></div>
<div class="g" style="left:324px;top:192px;width:69px;height:31px"><span>知识库管理</span></div>
<div class="c" style="left:393px;top:99px;width:70px;height:29px"><span>控制加密</span></div>
<div class="c" style="left:393px;top:130px;width:70px;height:30px"><span>参数修改</span></div>
<div class="c" style="left:393px;top:162px;width:70px;height:29px"><span>远程启动</span></div>
<div class="g" style="left:393px;top:192px;width:71px;height:31px"><span>远程控制</span></div>
<div class="c" style="left:464px;top:4px;width:70px;height:30px"><span>视频添加</span></div>
<div class="c" style="left:464px;top:35px;width:70px;height:30px"><span>组态编辑</span></div>
<div class="c" style="left:464px;top:67px;width:70px;height:30px"><span>网关管理</span></div>
<div class="c" style="left:464px;top:99px;width:70px;height:29px"><span>网关绑定</span></div>
<div class="c" style="left:464px;top:130px;width:70px;height:30px"><span>参数配置</span></div>
<div class="c" style="left:464px;top:162px;width:70px;height:29px"><span>项目新建</span></div>
<div class="g" style="left:464px;top:192px;width:71px;height:31px"><span>产品管理</span></div>
<div class="c" style="left:535px;top:99px;width:68px;height:29px"><span>权限管理</span></div>
<div class="c" style="left:535px;top:130px;width:68px;height:30px"><span>角色管理</span></div>
<div class="c" style="left:535px;top:162px;width:68px;height:29px"><span>人员管理</span></div>
<div class="g" style="left:535px;top:192px;width:69px;height:31px"><span>用户管理</span></div>
<div class="c" style="left:604px;top:4px;width:65px;height:30px"><span>维保设置</span></div>
<div class="c" style="left:604px;top:35px;width:65px;height:30px"><span>故障配置</span></div>
<div class="c" style="left:604px;top:67px;width:65px;height:30px"><span>SIM卡管理</span></div>
<div class="c" style="left:604px;top:99px;width:65px;height:29px"><span>空间管理</span></div>
<div class="c" style="left:604px;top:130px;width:65px;height:30px"><span>短信管理</span></div>
<div class="c" style="left:604px;top:162px;width:65px;height:29px"><span>系统日志</span></div>
<div class="g" style="left:604px;top:192px;width:65px;height:31px"><span>系统管理</span></div>
<div class="bar" style="left:39px;top:225px;width:630px;height:33px"><span>污水站无人值守平台</span></div>
<div class="lbl app" style="left:648px;top:225px"><span>应用平台</span></div>
<div class="lbl v" style="left:12px;top:80px"><span>呈现及应用</span></div>
<div class="lbl v" style="left:12px;top:300px"><span>采集及传输</span></div>
<div class="bb" style="left:175px;top:268px;width:358px;height:16px"><span>数据核心总线</span></div>
<div class="bb" style="left:175px;top:286px;width:358px;height:16px"><span>分布式数据通讯系统</span></div>
<div class="ct" style="left:175px;top:315px;width:80px;height:163px"><span></span></div>
<div class="ct mid" style="left:254px;top:316px;width:200px;height:162px"><span></span></div>
<div class="ct" style="left:453px;top:315px;width:81px;height:163px"><span></span></div>
<div class="tc" style="left:177px;top:317px;width:75px;height:33px"><span>算法学习</span></div>
<div class="tc" style="left:177px;top:350px;width:75px;height:32px"><span>数据转换</span></div>
<div class="tc" style="left:177px;top:383px;width:75px;height:31px"><span>协议转换</span></div>
<div class="tc" style="left:177px;top:414px;width:75px;height:32px"><span>协议解析</span></div>
<div class="tc" style="left:177px;top:446px;width:75px;height:32px"><span>接口转换</span></div>
<div class="tc" style="left:456px;top:317px;width:76px;height:33px"><span>安全防护</span></div>
<div class="tc" style="left:456px;top:350px;width:76px;height:32px"><span>数据传输</span></div>
<div class="tc" style="left:456px;top:383px;width:76px;height:31px"><span>本地存储</span></div>
<div class="tc" style="left:456px;top:414px;width:76px;height:32px"><span>数据缓存</span></div>
<div class="tc" style="left:456px;top:446px;width:76px;height:32px"><span>数据清洗</span></div>
<div class="lbl" style="left:310px;top:455px"><span>HINET工业网关</span></div>
<div class="lbl note" style="left:543px;top:331px"><span>解决异形接口以及异构协议兼容问题</span><br><span>解决原始数据量过大、数据实时性要求高等问题</span></div>
<div class="lbl v" style="left:7px;top:515px"><span>污水处理站点</span></div>
<div class="lbl cap" style="left:85.2px;top:669px"><span>泵站</span></div>
<div class="lbl cap" style="left:270.5px;top:669px"><span>水处理</span></div>
<div class="lbl cap" style="left:524px;top:669px"><span>风机</span></div>
<div class="lbl cap" style="left:625.7px;top:669px"><span>空压机</span></div>
<svg width="711" height="694" viewBox="0 0 711 694" style="z-index:2"><g filter="url(#b3)"><rect x="313.3" y="331.2" width="5.1" height="11.3" fill="#cf2f2c" rx="1.6"/><rect x="314.4" y="331.6" width="1.2" height="9.4" fill="#e46a60"/><polygon points="328.6,341.3 354.8,352.2 354.2,417.2 325.6,450.3" fill="#2c2c2d"/><polygon points="328.6,341.3 354.8,352.2 354.7,354.5 328.4,343.9" fill="#3a3a3a"/><polygon points="296.2,343.6 328.6,341.3 325.6,450.3 296.4,443.0" fill="#232324"/><path d="M299.2 347.5 Q303.5 346 304.8 350 Q307.5 356 309.8 364 Q312.4 372 311.2 381 Q310.6 389 313.6 396 Q317.6 404 316.8 413 Q316.4 424 313.6 432 Q311 440 309 446.2 L299.6 443.6 Z" fill="#2b60b3"/><path d="M299.6 360 L302 359.6 L302.4 440 L299.8 443.4 Z" fill="#3f78cf"/><rect x="302.2" y="357.5" width="2.2" height="1.1" fill="#9fc3ee"/><ellipse cx="307.4" cy="358.1" rx="1.1" ry="1.1" fill="#0e0e10"/><rect x="302.2" y="362.5" width="2.2" height="1.1" fill="#9fc3ee"/><ellipse cx="307.4" cy="363.1" rx="1.1" ry="1.1" fill="#0e0e10"/><rect x="302.2" y="367.5" width="2.2" height="1.1" fill="#9fc3ee"/><ellipse cx="307.4" cy="368.1" rx="1.1" ry="1.1" fill="#0e0e10"/><rect x="302.2" y="372.5" width="2.2" height="1.1" fill="#9fc3ee"/><ellipse cx="307.4" cy="373.1" rx="1.1" ry="1.1" fill="#0e0e10"/><rect x="303.2" y="385.6" width="8.6" height="1.6" fill="#c9d6ea"/><rect x="303.2" y="389.4" width="11.2" height="2.0" fill="#d7e0ee"/><rect x="314.6" y="381.5" width="1.0" height="9.0" fill="#c8c8c8"/><rect x="312.8" y="384.2" width="4.6" height="0.9" fill="#c8c8c8"/><rect x="317.2" y="357.6" width="3.6" height="17.8" fill="#a45a34" rx="0.8"/><rect x="318.0" y="359.0" width="1.2" height="14.4" fill="#c07a4c"/><rect x="304.2" y="404.0" width="6.4" height="4.6" fill="#a8abae" rx="1"/><rect x="303.0" y="409.6" width="9.0" height="14.0" fill="#6e7276" rx="1.6"/><rect x="304.6" y="411.4" width="5.8" height="10.2" fill="#2b2d30"/><rect x="304.4" y="424.6" width="5.8" height="4.8" fill="#9fa2a5" rx="1"/><rect x="314.6" y="416.0" width="1.4" height="8.0" fill="#6c6c6c"/><rect x="337.6" y="396.6" width="4.0" height="11.2" fill="#d2d2d2"/><rect x="342.8" y="395.2" width="4.1" height="11.0" fill="#c9c9c9"/><rect x="338.4" y="399.0" width="2.6" height="6.5" fill="#4a4a4a"/><rect x="343.6" y="397.6" width="2.6" height="6.4" fill="#4a4a4a"/><rect x="343.6" y="369.5" width="2.0" height="12.1" fill="#b9b9b9"/><rect x="346.2" y="372.0" width="1.0" height="8.0" fill="#8a8a8a"/><rect x="338.2" y="364.3" width="1.0" height="1.1" fill="#d9d94a"/><line x1="331.5" y1="427.5" x2="353.0" y2="403.0" stroke="#0e0e0e" stroke-width="0.90"/><line x1="336.4" y1="410.0" x2="336.2" y2="420.0" stroke="#777" stroke-width="0.60"/><line x1="342.2" y1="408.6" x2="342.0" y2="418.0" stroke="#777" stroke-width="0.60"/></g><g filter="url(#b3)"><rect x="356.4" y="356.4" width="64.6" height="86.6" fill="#f6f5ea" opacity=".55"/><polygon points="357.6,358.2 394.4,357.7 394.4,441.8 357.6,434.8" fill="#3f3c35"/><polygon points="357.6,358.2 361.0,358.2 361.0,435.5 357.6,434.8" fill="#2b2924"/><polygon points="357.6,380.0 360.0,380.0 360.0,412.0 357.6,412.0" fill="#55524a"/><rect x="365.0" y="361.4" width="1.7" height="13.2" fill="#14130f"/><polygon points="365.0,419.0 366.7,419.3 366.7,434.6 365.0,434.2" fill="#14130f"/><rect x="368.6" y="361.4" width="1.7" height="13.2" fill="#14130f"/><polygon points="368.6,419.4 370.3,419.8 370.3,435.2 368.6,434.8" fill="#14130f"/><rect x="372.2" y="361.4" width="1.7" height="13.2" fill="#14130f"/><polygon points="372.2,419.9 373.9,420.2 373.9,435.7 372.2,435.3" fill="#14130f"/><rect x="375.8" y="361.4" width="1.7" height="13.2" fill="#14130f"/><polygon points="375.8,420.4 377.5,420.7 377.5,436.2 375.8,435.8" fill="#14130f"/><rect x="379.4" y="361.4" width="1.7" height="13.2" fill="#14130f"/><polygon points="379.4,420.8 381.1,421.1 381.1,436.8 379.4,436.4" fill="#14130f"/><rect x="383.0" y="361.4" width="1.7" height="13.2" fill="#14130f"/><polygon points="383.0,421.2 384.7,421.6 384.7,437.4 383.0,436.9" fill="#14130f"/><rect x="386.6" y="361.4" width="1.7" height="13.2" fill="#14130f"/><polygon points="386.6,421.7 388.3,422.0 388.3,437.9 386.6,437.5" fill="#14130f"/><rect x="362.6" y="378.4" width="16.8" height="38.2" fill="#47443c"/><rect x="362.6" y="378.4" width="16.8" height="0.6" fill="#5a564c"/><rect x="384.4" y="392.0" width="1.0" height="15.0" fill="#bdb9ad"/><rect x="386.2" y="396.0" width="0.8" height="8.0" fill="#8c897f"/><rect x="394.0" y="357.7" width="1.2" height="84.2" fill="#c87a1e"/><polygon points="395.2,358.0 419.8,358.3 419.8,441.4 395.2,442.0" fill="#2b2b2c"/><rect x="401.4" y="361.6" width="6.4" height="21.6" fill="#0c0c0d"/><rect x="403.2" y="363.2" width="2.8" height="2.3" fill="#ff2a1e"/><rect x="403.2" y="366.5" width="2.8" height="2.3" fill="#21d32f"/><rect x="403.2" y="369.8" width="2.8" height="2.3" fill="#21d32f"/><rect x="403.2" y="373.1" width="2.8" height="2.3" fill="#f5e61c"/><rect x="403.2" y="376.4" width="2.8" height="2.3" fill="#f5e61c"/><rect x="403.2" y="379.7" width="2.8" height="2.3" fill="#f5e61c"/><rect x="411.6" y="364.0" width="6.6" height="21.6" fill="#363637"/><rect x="408.6" y="362.0" width="0.6" height="21.0" fill="#77777a"/><ellipse cx="408.2" cy="399.4" rx="3.9" ry="4.1" fill="#aeb2b6"/><ellipse cx="408.2" cy="399.4" rx="2.0" ry="2.1" fill="#6a6e72"/><ellipse cx="416.0" cy="398.6" rx="3.7" ry="3.9" fill="#bcc0c4"/><ellipse cx="416.0" cy="398.6" rx="1.8" ry="1.9" fill="#777b7f"/><rect x="403.6" y="406.6" width="8.4" height="13.2" fill="#8e9499" rx="0.8"/><rect x="404.8" y="408.2" width="6.2" height="9.8" fill="#1d2a33"/><rect x="403.9" y="407.2" width="1.3" height="1.6" fill="#27d13c"/><rect x="403.9" y="417.2" width="1.3" height="1.8" fill="#f1e21d"/><rect x="403.6" y="421.4" width="8.4" height="13.2" fill="#8e9499" rx="0.8"/><rect x="404.8" y="423.0" width="6.2" height="9.8" fill="#1d2a33"/><rect x="403.9" y="422.0" width="1.3" height="1.6" fill="#27d13c"/><rect x="403.9" y="432.0" width="1.3" height="1.8" fill="#f1e21d"/><rect x="414.4" y="404.0" width="0.8" height="32.0" fill="#505052"/></g><polygon points="353.4,257.6 360.0,268.0 355.3,268.0 353.4,266.3 351.5,268.0 346.8,268.0" fill="#9bbb59"/><path d="M354.2 302.4 L358.8 307.4 L356.6 307.4 L366.2 320.4 L358.4 320.4 L354.3 314.6 L350.2 320.4 L342.6 320.4 L351.8 307.4 L349.6 307.4 Z" fill="url(#gOr)"/><path d="M351.2 479.5 L353.4 479.5 L353.6 488 L349.5 497 L338 497 Q347 489 351.2 479.5Z" fill="url(#gTl)"/><path d="M353.4 479.5 L356.3 479.5 Q360 489 370.4 497 L357.3 497 L353.6 488Z" fill="url(#gGr)"/><polygon points="353.5,472.6 359.6,479.9 348.2,479.9" fill="url(#gHead)"/><rect x="351.3" y="479.5" width="4.9" height="6.5" fill="#14a468"/></svg>
<svg width="711" height="694" viewBox="0 0 711 694" style="z-index:3" font-family="&quot;Liberation Sans&quot;, &quot;Noto Sans CJK SC&quot;, sans-serif">
<g fill="#111" font-size="9.45">
<text x="55.10" y="22.89">站点检索</text>
<text x="55.10" y="53.89">站点列表</text>
<text x="55.10" y="85.89">报警提醒</text>
<text x="55.10" y="117.39">运行总览</text>
<text x="55.10" y="148.89">在线状态</text>
<text x="55.10" y="180.39">设备分布</text>
<text x="74.0" y="211.39" text-anchor="middle" font-weight="bold">GIS地图</text>
<text x="127.60" y="85.89">实时视频</text>
<text x="127.60" y="117.39">工艺画面</text>
<text x="127.60" y="148.89">实时曲线</text>
<text x="127.60" y="180.39">实时数据</text>
<text x="127.60" y="211.39" font-weight="bold">监控中心</text>
<text x="198.60" y="22.89">工单统计</text>
<text x="198.60" y="53.89">故障统计</text>
<text x="198.60" y="85.89">工单详情</text>
<text x="198.60" y="117.39">工单派发</text>
<text x="198.60" y="148.89">工单提醒</text>
<text x="198.60" y="180.39">故障提醒</text>
<text x="198.60" y="211.39" font-weight="bold">维保中心</text>
<text x="269.10" y="85.89">报表生成</text>
<text x="269.10" y="117.39">历史曲线</text>
<text x="269.10" y="148.89">数据导出</text>
<text x="269.10" y="180.39">数据查询</text>
<text x="269.10" y="211.39" font-weight="bold">历史数据</text>
<text x="339.10" y="85.89">知识检索</text>
<text x="339.10" y="117.39">知识列表</text>
<text x="339.10" y="148.89">知识录入</text>
<text x="339.10" y="180.39">知识分类</text>
<text x="334.38" y="211.39" font-weight="bold">知识库管理</text>
<text x="409.10" y="117.39">控制加密</text>
<text x="409.10" y="148.89">参数修改</text>
<text x="409.10" y="180.39">远程启动</text>
<text x="409.10" y="211.39" font-weight="bold">远程控制</text>
<text x="480.10" y="22.89">视频添加</text>
<text x="480.10" y="53.89">组态编辑</text>
<text x="480.10" y="85.89">网关管理</text>
<text x="480.10" y="117.39">网关绑定</text>
<text x="480.10" y="148.89">参数配置</text>
<text x="480.10" y="180.39">项目新建</text>
<text x="480.10" y="211.39" font-weight="bold">产品管理</text>
<text x="550.10" y="117.39">权限管理</text>
<text x="550.10" y="148.89">角色管理</text>
<text x="550.10" y="180.39">人员管理</text>
<text x="550.10" y="211.39" font-weight="bold">用户管理</text>
<text x="617.60" y="22.89">维保设置</text>
<text x="617.60" y="53.89">故障配置</text>
<text x="636.5" y="85.89" text-anchor="middle">SIM卡管理</text>
<text x="617.60" y="117.39">空间管理</text>
<text x="617.60" y="148.89">短信管理</text>
<text x="617.60" y="180.39">系统日志</text>
<text x="617.60" y="211.39" font-weight="bold">系统管理</text>
<text x="310.38" y="245.29" font-weight="bold">污水站无人值守平台</text>
</g>
<text x="649.00" y="239.52" font-size="13.2" font-weight="bold" fill="#1c4a7c" letter-spacing="-0.3">应用平台</text>
<g fill="#2a2a2a" font-size="12.4">
<text x="13.10" y="93.31">呈</text>
<text x="13.10" y="109.71">现</text>
<text x="13.10" y="126.11">及</text>
<text x="13.10" y="142.51">应</text>
<text x="13.10" y="158.91">用</text>
<text x="13.10" y="312.71">采</text>
<text x="13.10" y="329.01">集</text>
<text x="13.10" y="345.31">及</text>
<text x="13.10" y="361.61">传</text>
<text x="13.10" y="377.91">输</text>
</g>
<g fill="#fff" font-size="9.2">
<text x="326.30" y="279.50">数据核心总线</text>
<text x="312.50" y="297.50">分布式数据通讯系统</text>
</g>
<g fill="#fff" font-size="9.4">
<text x="195.70" y="337.57">算法学习</text>
<text x="195.70" y="370.07">数据转换</text>
<text x="195.70" y="402.57">协议转换</text>
<text x="195.70" y="434.07">协议解析</text>
<text x="195.70" y="466.07">接口转换</text>
<text x="475.20" y="337.57">安全防护</text>
<text x="475.20" y="370.07">数据传输</text>
<text x="475.20" y="402.57">本地存储</text>
<text x="475.20" y="434.07">数据缓存</text>
<text x="475.20" y="466.07">数据清洗</text>
</g>
<text x="350.4" y="466.21" font-size="10.3" fill="#111" text-anchor="middle">HINET工业网关</text>
<g fill="#1b3768" font-size="13.2" font-weight="bold" letter-spacing="-0.55">
<text x="543.00" y="344.32">解决异形接口以及异构协议</text>
<text x="543.00" y="361.02">兼容问题</text>
<text x="543.00" y="396.02">解决原始数据量过大、数据</text>
<text x="543.00" y="411.82">实时性要求高等问题</text>
</g>
<g fill="#333" font-size="12.4">
<text x="8.20" y="528.01">污</text>
<text x="8.20" y="544.31">水</text>
<text x="8.20" y="560.61">处</text>
<text x="8.20" y="576.91">理</text>
<text x="8.20" y="593.21">站</text>
<text x="8.20" y="609.51">点</text>
</g>
<g fill="#222" font-size="11">
<text x="94.20" y="680.68">泵站</text>
<text x="274.00" y="680.68">水处理</text>
<text x="533.00" y="680.68">风机</text>
<text x="629.20" y="680.68">空压机</text>
</g>
<rect x="346.2" y="466.6" width="19.6" height="0.9" fill="#222"/></svg>
</body></html>
